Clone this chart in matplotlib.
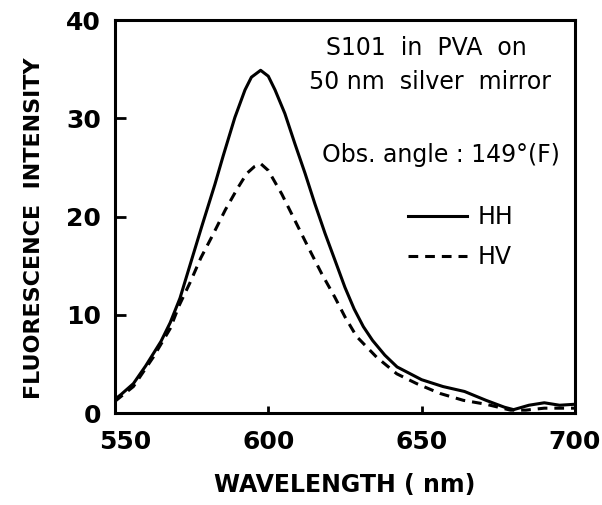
import matplotlib
matplotlib.use('Agg')
import matplotlib.pyplot as plt
from matplotlib.transforms import ScaledTranslation

plt.rcParams['font.family'] = 'DejaVu Sans'
plt.rcParams['lines.scale_dashes'] = False

# values
wl_hh = [550, 552, 556, 560, 565, 568, 571.2, 574.5, 578.3, 582.6, 585.3, 589.1,
         592.4, 594.5, 597.5, 600, 602.2, 605.4, 608.7, 612, 615.2, 618.5, 621.7,
         625, 628, 631, 634, 638, 642, 650, 657, 664, 671, 677, 680, 685, 690, 695, 700]
hh = [1.4, 1.9, 3.0, 4.8, 7.3, 9.2, 11.7, 15.1, 19.0, 23.3, 26.2, 30.1,
      32.9, 34.2, 34.9, 34.3, 32.9, 30.5, 27.4, 24.4, 21.3, 18.3, 15.6,
      12.8, 10.6, 8.8, 7.4, 5.9, 4.7, 3.4, 2.7, 2.2, 1.3, 0.6, 0.35, 0.8, 1.05, 0.8, 0.9]

wl_hv = [550, 556, 562.5, 568, 571, 574.5, 578, 582, 586, 590, 593, 595.5, 597.5,
         600, 604.4, 608.7, 613, 617.4, 621.7, 625, 628.8, 635.3, 641.9, 648.4,
         656, 663.6, 671, 679, 684, 690, 700]
hv = [1.2, 2.7, 5.7, 8.6, 11.0, 13.3, 15.8, 18.2, 20.7, 22.9, 24.4, 25.1, 25.4,
      24.7, 22.3, 19.6, 16.9, 14.2, 11.8, 9.8, 7.8, 5.7, 4.0, 3.0,
      2.0, 1.3, 0.9, 0.3, 0.3, 0.5, 0.5]

x_ticks = [550, 600, 650, 700]
y_ticks = [0, 10, 20, 30, 40]

fig = plt.figure(figsize=(6.02, 5.05), dpi=100)
ax = fig.add_axes([0.191, 0.182, 0.764, 0.778])

ax.plot(wl_hh, hh, color='black', lw=2.2, label='HH')
ax.plot(wl_hv, hv, color='black', lw=2.2, dashes=(7, 5), label='HV')

ax.set_xlim(550, 700)
ax.set_ylim(0, 40)
ax.set_xticks(x_ticks)
ax.set_yticks(y_ticks)
for s in ax.spines.values():
    s.set_linewidth(2.2)
ax.tick_params(axis='x', direction='in', length=5, width=2, pad=12, labelsize=18)
ax.tick_params(axis='y', direction='in', length=8, width=2, pad=10, labelsize=18)
for lab in ax.get_xticklabels() + ax.get_yticklabels():
    lab.set_fontweight('bold')
# 550 label sits a little right of the corner
lab0 = ax.get_xticklabels()[0]
lab0.set_transform(lab0.get_transform() + ScaledTranslation(0.1, 0, fig.dpi_scale_trans))

ax.set_xlabel('WAVELENGTH ( nm)', fontsize=17, fontweight='bold', labelpad=14)
ax.set_ylabel('FLUORESCENCE  INTENSITY', fontsize=16, fontweight='bold')
ax.yaxis.set_label_coords(-0.155, 0.47)

ax.text(0.676, 0.929, 'S101  in  PVA  on', transform=ax.transAxes,
        ha='center', va='center', fontsize=17)
ax.text(0.685, 0.842, '50 nm  silver  mirror', transform=ax.transAxes,
        ha='center', va='center', fontsize=17)
ax.text(0.709, 0.656, 'Obs. angle : 149°(F)', transform=ax.transAxes,
        ha='center', va='center', fontsize=17)

ax.legend(loc='center left', bbox_to_anchor=(0.637, 0.448), frameon=False,
          fontsize=17, handlelength=2.5, handletextpad=0.45, labelspacing=0.7,
          borderpad=0, borderaxespad=0)

plt.savefig('out.png', dpi=100)
